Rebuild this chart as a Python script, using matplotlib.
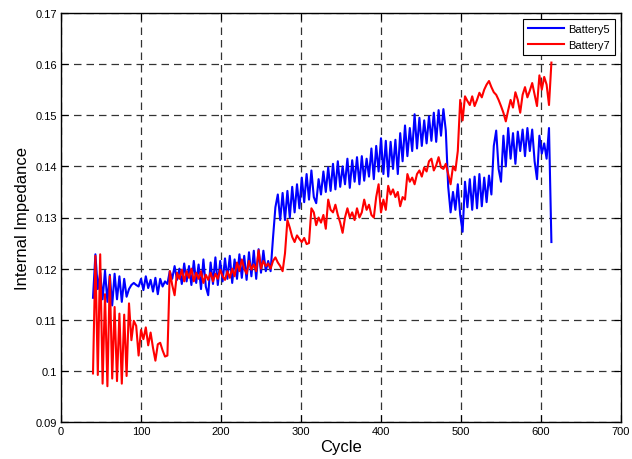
import numpy as np
import matplotlib
matplotlib.use("Agg")
import matplotlib.pyplot as plt
from matplotlib.ticker import FuncFormatter

plt.rcParams['font.family'] = ['Liberation Sans', 'DejaVu Sans']

start_cycle = 40
cycle_step = 3

battery5 = [
    0.1143, 0.1228, 0.1160, 0.1192, 0.1140, 0.1196, 0.1135, 0.1188, 0.1128, 0.1190,   # 40-67
    0.1140, 0.1185, 0.1135, 0.1180, 0.1145, 0.1160, 0.1168, 0.1172, 0.1168, 0.1165,   # 70-97
    0.1180, 0.1158, 0.1185, 0.1162, 0.1178, 0.1155, 0.1182, 0.1150, 0.1180, 0.1165,   # 100-127
    0.1175, 0.1170, 0.1195, 0.1180, 0.1205, 0.1178, 0.1200, 0.1170, 0.1210, 0.1175,   # 130-157
    0.1205, 0.1168, 0.1215, 0.1172, 0.1208, 0.1160, 0.1218, 0.1165, 0.1148, 0.1212,   # 160-187
    0.1170, 0.1222, 0.1168, 0.1215, 0.1175, 0.1220, 0.1180, 0.1225, 0.1172, 0.1218,   # 190-217
    0.1180, 0.1228, 0.1182, 0.1225, 0.1178, 0.1232, 0.1185, 0.1235, 0.1180, 0.1238,   # 220-247
    0.1192, 0.1235, 0.1195, 0.1215, 0.1195, 0.1260, 0.1320, 0.1345, 0.1295, 0.1348,   # 250-277
    0.1295, 0.1352, 0.1300, 0.1360, 0.1310, 0.1365, 0.1318, 0.1378, 0.1330, 0.1385,   # 280-307
    0.1335, 0.1392, 0.1340, 0.1328, 0.1375, 0.1345, 0.1390, 0.1350, 0.1398, 0.1352,   # 310-337
    0.1405, 0.1355, 0.1410, 0.1360, 0.1400, 0.1365, 0.1415, 0.1358, 0.1412, 0.1370,   # 340-367
    0.1418, 0.1365, 0.1420, 0.1372, 0.1415, 0.1380, 0.1435, 0.1375, 0.1440, 0.1390,   # 370-397
    0.1455, 0.1385, 0.1450, 0.1380, 0.1448, 0.1395, 0.1452, 0.1385, 0.1465, 0.1410,   # 400-427
    0.1480, 0.1420, 0.1475, 0.1430, 0.1502, 0.1435, 0.1495, 0.1440, 0.1490, 0.1445,   # 430-457
    0.1498, 0.1450, 0.1505, 0.1448, 0.1510, 0.1460, 0.1512, 0.1470, 0.1360, 0.1310,   # 460-487
    0.1350, 0.1315, 0.1365, 0.1305, 0.1272, 0.1370, 0.1320, 0.1375, 0.1315, 0.1380,   # 490-517
    0.1318, 0.1385, 0.1322, 0.1378, 0.1330, 0.1382, 0.1345, 0.1440, 0.1470, 0.1395,   # 520-547
    0.1370, 0.1460, 0.1400, 0.1475, 0.1415, 0.1465, 0.1405, 0.1468, 0.1430, 0.1472,   # 550-577
    0.1420, 0.1475, 0.1430, 0.1472, 0.1410, 0.1375, 0.1460, 0.1425, 0.1445, 0.1415,   # 580-607
    0.1475, 0.1252,                                                                   # 610-613
]

battery7 = [
    0.0995, 0.1225, 0.0992, 0.1228, 0.0975, 0.1150, 0.0970, 0.1185, 0.0985, 0.1125,   # 40-67
    0.0980, 0.1112, 0.0975, 0.1110, 0.0990, 0.1132, 0.1060, 0.1098, 0.1088, 0.1030,   # 70-97
    0.1080, 0.1062, 0.1085, 0.1050, 0.1075, 0.1045, 0.1020, 0.1052, 0.1055, 0.1040,   # 100-127
    0.1028, 0.1030, 0.1195, 0.1168, 0.1148, 0.1192, 0.1180, 0.1198, 0.1175, 0.1195,   # 130-157
    0.1182, 0.1200, 0.1175, 0.1192, 0.1180, 0.1195, 0.1172, 0.1188, 0.1178, 0.1192,   # 160-187
    0.1175, 0.1190, 0.1180, 0.1198, 0.1185, 0.1178, 0.1195, 0.1182, 0.1200, 0.1185,   # 190-217
    0.1212, 0.1195, 0.1218, 0.1200, 0.1190, 0.1215, 0.1198, 0.1208, 0.1195, 0.1236,   # 220-247
    0.1200, 0.1215, 0.1205, 0.1210, 0.1200, 0.1215, 0.1222, 0.1212, 0.1205, 0.1195,   # 250-277
    0.1230, 0.1295, 0.1280, 0.1262, 0.1252, 0.1265, 0.1258, 0.1252, 0.1260, 0.1248,   # 280-307
    0.1250, 0.1318, 0.1310, 0.1285, 0.1300, 0.1290, 0.1305, 0.1278, 0.1335, 0.1315,   # 310-337
    0.1310, 0.1325, 0.1305, 0.1290, 0.1270, 0.1300, 0.1318, 0.1300, 0.1310, 0.1295,   # 340-367
    0.1318, 0.1300, 0.1310, 0.1335, 0.1315, 0.1325, 0.1305, 0.1300, 0.1340, 0.1365,   # 370-397
    0.1310, 0.1335, 0.1315, 0.1362, 0.1345, 0.1355, 0.1340, 0.1350, 0.1322, 0.1340,   # 400-427
    0.1335, 0.1385, 0.1370, 0.1378, 0.1365, 0.1385, 0.1392, 0.1380, 0.1398, 0.1390,   # 430-457
    0.1410, 0.1415, 0.1392, 0.1402, 0.1418, 0.1398, 0.1395, 0.1405, 0.1385, 0.1365,   # 460-487
    0.1400, 0.1392, 0.1430, 0.1530, 0.1490, 0.1537, 0.1528, 0.1520, 0.1537, 0.1518,   # 490-517
    0.1530, 0.1544, 0.1535, 0.1550, 0.1560, 0.1567, 0.1555, 0.1545, 0.1540, 0.1530,   # 520-547
    0.1518, 0.1505, 0.1488, 0.1510, 0.1530, 0.1515, 0.1545, 0.1530, 0.1505, 0.1540,   # 550-577
    0.1555, 0.1535, 0.1548, 0.1563, 0.1540, 0.1518, 0.1578, 0.1550, 0.1575, 0.1560,   # 580-607
    0.1520, 0.1603,                                                                   # 610-613
]

cycles5 = start_cycle + cycle_step * np.arange(len(battery5))
cycles7 = start_cycle + cycle_step * np.arange(len(battery7))

x_ticks = [0, 100, 200, 300, 400, 500, 600, 700]
y_ticks = [0.09, 0.10, 0.11, 0.12, 0.13, 0.14, 0.15, 0.16, 0.17]

fig = plt.figure(figsize=(6.32, 4.60), dpi=100)
ax = fig.add_axes([61/632, 1 - 423/460, (621 - 61)/632, (423 - 14)/460])

ax.plot(cycles5, battery5, color='#0000ff', linewidth=1.5, label='Battery5')
ax.plot(cycles7, battery7, color='#ff0000', linewidth=1.5, label='Battery7')

ax.set_xlim(0, 700)
ax.set_ylim(0.09, 0.17)
ax.set_xticks(x_ticks)
ax.set_yticks(y_ticks)
ax.yaxis.set_major_formatter(FuncFormatter(lambda v, p: '%g' % round(v, 4)))
ax.tick_params(direction='in', top=True, right=True, length=5, width=0.8,
               labelsize=8, pad=3)
ax.grid(True, color='#333333', linestyle=(0, (6, 4)), linewidth=0.9)
for s in ax.spines.values():
    s.set_linewidth(1.0)
    s.set_color('black')

ax.set_xlabel('Cycle', fontsize=12, labelpad=2)
ax.set_ylabel('Internal Impedance', fontsize=12, labelpad=4)

leg = ax.legend(loc='upper right', fontsize=8, fancybox=False, framealpha=1,
                edgecolor='black', borderaxespad=0.5, handlelength=3.2,
                handletextpad=0.4, borderpad=0.5, labelspacing=0.5)
leg.get_frame().set_linewidth(0.8)

fig.savefig('out.png', dpi=100)
